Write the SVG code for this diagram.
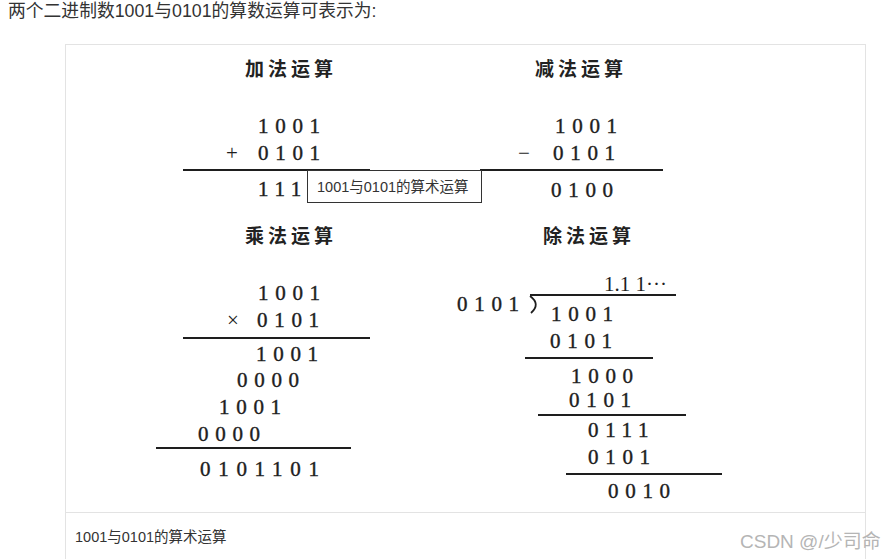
<svg xmlns="http://www.w3.org/2000/svg" width="896" height="559" viewBox="0 0 896 559">
<style>
.hd{font-family:"Liberation Sans","Noto Sans CJK SC",sans-serif;font-size:17.8px;fill:#333}
.t{font-family:"Noto Sans CJK SC",sans-serif;font-size:19px;font-weight:700;fill:#222;letter-spacing:4px}
.d{font-family:"Liberation Serif",serif;font-size:21px;fill:#1e1e1e;letter-spacing:6.7px;stroke:#1e1e1e;stroke-width:0.4}
.op{font-family:"Liberation Serif",serif;font-size:21px;fill:#1e1e1e}
.ln{stroke:#1e1e1e;stroke-width:2;fill:none}
.cap{font-family:"Liberation Sans","Noto Sans CJK SC",sans-serif;font-size:14.5px;fill:#333}
</style>
<rect width="896" height="559" fill="#fff"/>
<text class="hd" x="8" y="17">两个二进制数1001与0101的算数运算可表示为:</text>
<g id="frame">
<rect x="65.5" y="44.5" width="800" height="530" fill="#fff" stroke="#e3e3e3" stroke-width="1"/>
<line x1="66" y1="512.5" x2="865" y2="512.5" stroke="#e3e3e3" stroke-width="1"/>
</g>
<g id="addition">
<text class="t" x="245" y="76">加法运算</text>
<text class="d" x="258" y="133">1001</text>
<text class="op" x="226" y="160">+</text>
<text class="d" x="258" y="160">0101</text>
<line class="ln" x1="183" y1="170" x2="370" y2="170"/>
<text class="d" x="258" y="196">111</text>
</g>
<g id="subtraction">
<text class="t" x="535" y="76">减法运算</text>
<text class="d" x="555" y="133">1001</text>
<text class="op" x="518" y="160">−</text>
<text class="d" x="553" y="160">0101</text>
<line class="ln" x1="480" y1="170" x2="663" y2="170"/>
<text class="d" x="551" y="197">0100</text>
</g>
<g id="multiplication">
<text class="t" x="245" y="243">乘法运算</text>
<text class="d" x="258" y="300">1001</text>
<text class="op" x="227" y="327">×</text>
<text class="d" x="257" y="327">0101</text>
<line class="ln" x1="183" y1="338" x2="370" y2="338"/>
<text class="d" x="256" y="361">1001</text>
<text class="d" x="237" y="387">0000</text>
<text class="d" x="219" y="414">1001</text>
<text class="d" x="198" y="441">0000</text>
<line class="ln" x1="156" y1="448" x2="351" y2="448"/>
<text class="d" x="200" y="476" style="letter-spacing:7.7px">0101101</text>
</g>
<g id="division">
<text class="t" x="543" y="243">除法运算</text>
<text class="op" x="604" y="291">1.1 1···</text>
<path class="ln" d="M530 295 H676"/>
<path d="M530 296 Q541 304 531 313" fill="none" stroke="#1e1e1e" stroke-width="1.8"/>
<text class="d" x="457" y="311">0101</text>
<text class="d" x="551" y="321">1001</text>
<text class="d" x="550" y="348">0101</text>
<line class="ln" x1="525" y1="358" x2="653" y2="358"/>
<text class="d" x="571" y="383">1000</text>
<text class="d" x="569" y="407">0101</text>
<line class="ln" x1="538" y1="415" x2="686" y2="415"/>
<text class="d" x="588" y="437">0111</text>
<text class="d" x="588" y="464">0101</text>
<line class="ln" x1="566" y1="474" x2="722" y2="474"/>
<text class="d" x="608" y="498">0010</text>
</g>
<g id="tooltip">
<rect x="307.5" y="170.5" width="174" height="32" fill="#fff" stroke="#333" stroke-width="1"/>
<text class="cap" x="317" y="192">1001与0101的算术运算</text>
</g>
<text class="cap" x="75" y="542">1001与0101的算术运算</text>
<text x="740" y="548" style="font-family:'Liberation Sans','Noto Sans CJK SC',sans-serif;font-size:19px;fill:#b5b5b5">CSDN @/少司命</text>
</svg>
